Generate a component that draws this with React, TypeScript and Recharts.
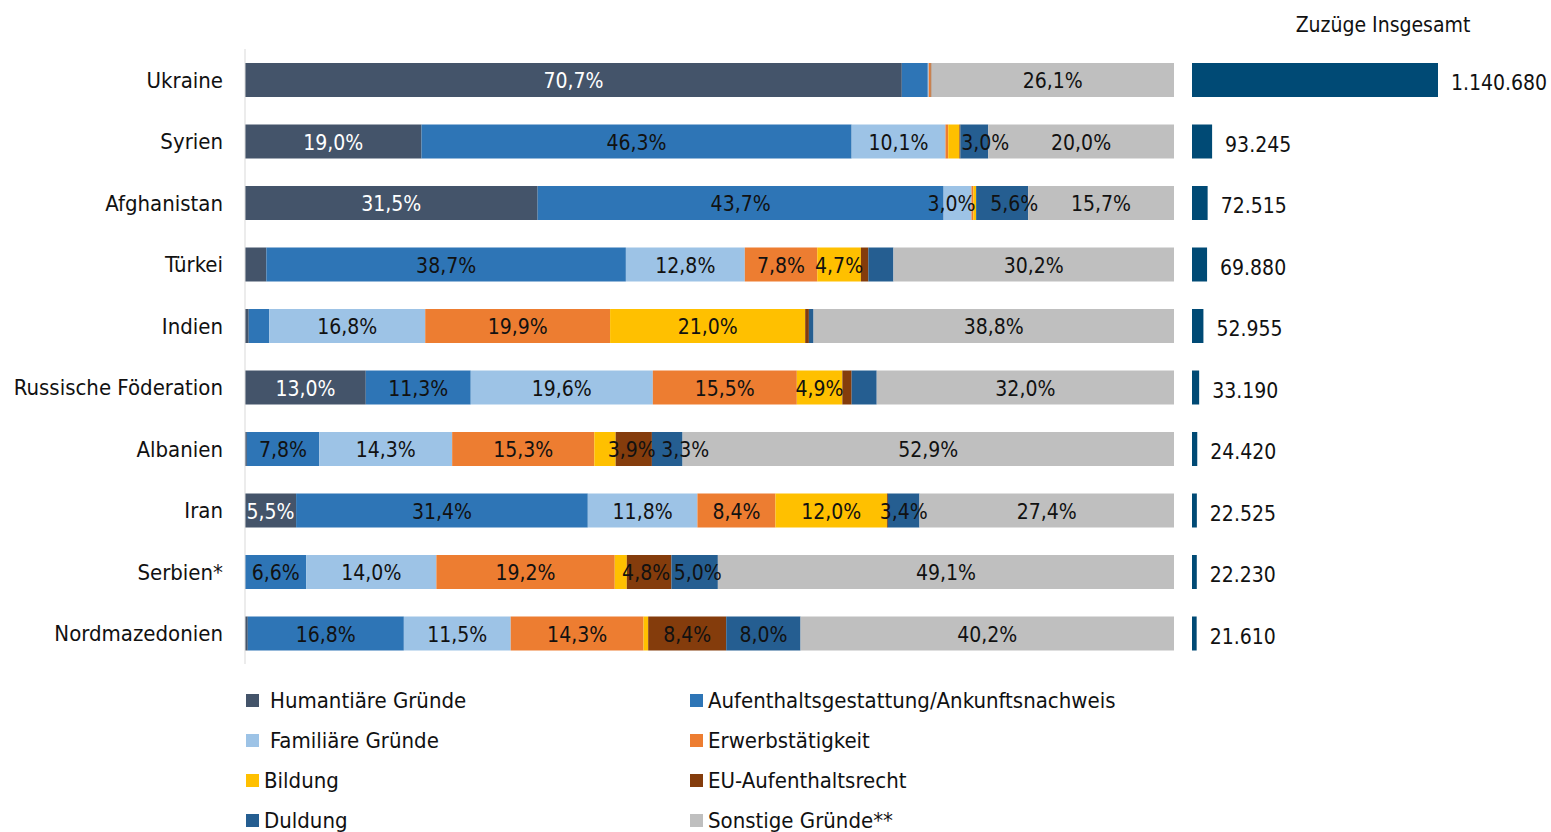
import React from "react";
import { Bar, BarChart, LabelList, XAxis, YAxis } from "recharts";

const countries = [
  "Ukraine",
  "Syrien",
  "Afghanistan",
  "Türkei",
  "Indien",
  "Russische Föderation",
  "Albanien",
  "Iran",
  "Serbien*",
  "Nordmazedonien",
];

// shares in percent, per reason, same order as countries
const humanitaer = [70.7, 19.0, 31.5, 2.3, 0.4, 13.0, 0.2, 5.5, 0, 0.3];
const aufenthalt = [2.8, 46.3, 43.7, 38.7, 2.2, 11.3, 7.8, 31.4, 6.6, 16.8];
const familiaer = [0.1, 10.1, 3.0, 12.8, 16.8, 19.6, 14.3, 11.8, 14.0, 11.5];
const erwerb = [0.2, 0.3, 0.2, 7.8, 19.9, 15.5, 15.3, 8.4, 19.2, 14.3];
const bildung = [0, 1.2, 0.3, 4.7, 21.0, 4.9, 2.3, 12.0, 1.3, 0.5];
const euRecht = [0.1, 0.1, 0, 0.8, 0.4, 1.0, 3.9, 0.1, 4.8, 8.4];
const duldung = [0, 3.0, 5.6, 2.7, 0.5, 2.7, 3.3, 3.4, 5.0, 8.0];
const sonstige = [26.1, 20.0, 15.7, 30.2, 38.8, 32.0, 52.9, 27.4, 49.1, 40.2];

const totals = [1140680, 93245, 72515, 69880, 52955, 33190, 24420, 22525, 22230, 21610];

const series = [
  { key: "hum", name: "Humantiäre Gründe", values: humanitaer, color: "#44546A", text: "#fff" },
  { key: "auf", name: "Aufenthaltsgestattung/Ankunftsnachweis", values: aufenthalt, color: "#2E75B6", text: "#111" },
  { key: "fam", name: "Familiäre Gründe", values: familiaer, color: "#9DC3E6", text: "#111" },
  { key: "erw", name: "Erwerbstätigkeit", values: erwerb, color: "#ED7D31", text: "#111" },
  { key: "bil", name: "Bildung", values: bildung, color: "#FFC000", text: "#111" },
  { key: "eu", name: "EU-Aufenthaltsrecht", values: euRecht, color: "#843C0C", text: "#111" },
  { key: "dul", name: "Duldung", values: duldung, color: "#255E91", text: "#111" },
  { key: "son", name: "Sonstige Gründe**", values: sonstige, color: "#BFBFBF", text: "#111" },
];

const legendRows = [
  ["hum", "auf"],
  ["fam", "erw"],
  ["bil", "eu"],
  ["dul", "son"],
];

// small horizontal nudges for labels in narrow segments (as in the original)
const labelNudge: Record<string, number> = {
  "Syrien|dul": 11,
  "Afghanistan|fam": -6,
  "Afghanistan|dul": 12,
  "Albanien|eu": -2,
  "Albanien|dul": 18,
  "Serbien*|eu": -3,
  "Serbien*|dul": 3,
};

const FONT = "'Liberation Sans Narrow', 'DejaVu Sans Condensed', 'Roboto', sans-serif";

const shareData = countries.map((c, i) => {
  const row: Record<string, string | number> = { country: c };
  series.forEach((s) => (row[s.key] = s.values[i]));
  return row;
});

const totalData = countries.map((c, i) => ({ country: c, total: totals[i] }));

const fmtPct = (v: number) => `${v.toFixed(1).replace(".", ",")}%`;
const fmtNum = (v: number) => v.toString().replace(/\B(?=(\d{3})+(?!\d))/g, ".");

function pctLabel(key: string, color: string) {
  return (props: any) => {
    const { x, y, width, height, value } = props;
    if (value == null) return null;
    const [country, raw] = String(value).split("#");
    const v = Number(raw);
    if (!(v >= 3)) return null;
    const dx = labelNudge[`${country}|${key}`] ?? 0;
    return (
      <text
        x={x + width / 2 + dx}
        y={y + height / 2 + 2}
        textAnchor="middle"
        dominantBaseline="middle"
        fontSize={21}
        fontFamily={FONT}
        fill={color}
      >
        {fmtPct(v)}
      </text>
    );
  };
}

export default function App() {
  return (
    <div style={{ position: "absolute", left: 0, top: 0, width: 1551, height: 832, background: "#fff", fontFamily: FONT }}>
      <div style={{ position: "absolute", left: 0, top: 0 }}>
        <BarChart
          width={1180}
          height={670}
          data={shareData}
          layout="vertical"
          margin={{ top: 49, right: 6, bottom: 6, left: 0 }}
          barSize={34}
        >
          <XAxis type="number" domain={[0, 100]} hide />
          <YAxis
            type="category"
            dataKey="country"
            width={245}
            tickLine={false}
            tickSize={0}
            tickMargin={22}
            axisLine={{ stroke: "#d9d9d9" }}
            tick={{ fontSize: 22, fill: "#111", fontFamily: FONT }}
            interval={0}
          />
          {series.map((s) => (
            <Bar key={s.key} dataKey={s.key} stackId="a" fill={s.color} isAnimationActive={false}>
              <LabelList
                dataKey={(d: any) => `${d.country}#${d[s.key]}`}
                content={pctLabel(s.key, s.text)}
              />
            </Bar>
          ))}
        </BarChart>
      </div>

      <div style={{ position: "absolute", left: 1192, top: 0 }}>
        <BarChart
          width={359}
          height={670}
          data={totalData}
          layout="vertical"
          margin={{ top: 49, right: 113, bottom: 6, left: 0 }}
          barSize={34}
        >
          <XAxis type="number" domain={[0, 1140680]} hide />
          <YAxis type="category" dataKey="country" hide />
          <Bar dataKey="total" fill="#004A75" isAnimationActive={false}>
            <LabelList
              dataKey="total"
              position="right"
              offset={13}
              formatter={(v: any) => fmtNum(Number(v))}
              style={{ fontSize: 21, fill: "#111", fontFamily: FONT, transform: "translateY(3px)" }}
            />
          </Bar>
        </BarChart>
      </div>

      <div
        style={{
          position: "absolute",
          left: 1293,
          top: 13,
          width: 180,
          textAlign: "center",
          fontSize: 21,
          color: "#111",
        }}
      >
        Zuzüge Insgesamt
      </div>

      {legendRows.map((row, r) =>
        row.map((key, c) => {
          const s = series.find((x) => x.key === key)!;
          return (
            <div
              key={key}
              style={{
                position: "absolute",
                left: c === 0 ? 246 : 690,
                top: 686 + r * 40,
                height: 28,
                display: "flex",
                alignItems: "center",
                fontSize: 22,
                color: "#111",
                whiteSpace: "nowrap",
              }}
            >
              <span style={{ display: "inline-block", width: 13, height: 13, background: s.color, marginRight: r < 2 && c === 0 ? 11 : 5 }} />
              {s.name}
            </div>
          );
        })
      )}
    </div>
  );
}
